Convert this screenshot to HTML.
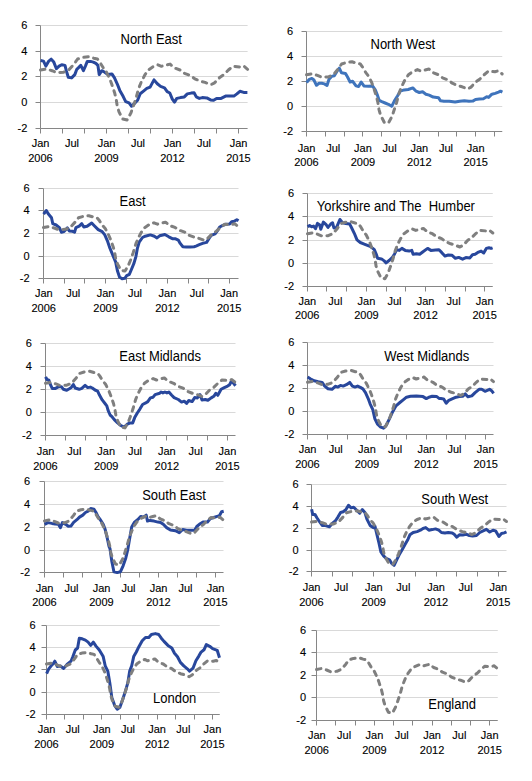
<!DOCTYPE html>
<html><head><meta charset="utf-8"><style>
html,body{margin:0;padding:0;background:#fff;width:532px;height:781px;overflow:hidden}
svg{display:block}
.l{font-family:"Liberation Sans",sans-serif;font-size:11px;fill:#000;stroke:#000;stroke-width:0.12px}
.t{font-family:"Liberation Sans",sans-serif;font-size:13px;fill:#000}
</style></head><body>
<svg width="532" height="781" viewBox="0 0 532 781">
<line x1="40.5" y1="25.5" x2="247.6" y2="25.5" stroke="#d9d9d9" stroke-width="1"/>
<line x1="40.5" y1="51.5" x2="247.6" y2="51.5" stroke="#d9d9d9" stroke-width="1"/>
<line x1="40.5" y1="76.5" x2="247.6" y2="76.5" stroke="#d9d9d9" stroke-width="1"/>
<line x1="40.5" y1="102.5" x2="247.6" y2="102.5" stroke="#d9d9d9" stroke-width="1"/>
<line x1="35.5" y1="25.5" x2="40.5" y2="25.5" stroke="#868686" stroke-width="1"/>
<line x1="35.5" y1="51.5" x2="40.5" y2="51.5" stroke="#868686" stroke-width="1"/>
<line x1="35.5" y1="76.5" x2="40.5" y2="76.5" stroke="#868686" stroke-width="1"/>
<line x1="35.5" y1="102.5" x2="40.5" y2="102.5" stroke="#868686" stroke-width="1"/>
<line x1="35.5" y1="128.5" x2="40.5" y2="128.5" stroke="#868686" stroke-width="1"/>
<line x1="40.5" y1="25.5" x2="40.5" y2="128.5" stroke="#868686" stroke-width="1"/>
<line x1="40.5" y1="128.5" x2="247.6" y2="128.5" stroke="#868686" stroke-width="1"/>
<line x1="40.5" y1="128.5" x2="40.5" y2="133.5" stroke="#868686" stroke-width="1"/>
<line x1="62.5" y1="128.5" x2="62.5" y2="133.5" stroke="#868686" stroke-width="1"/>
<line x1="84.5" y1="128.5" x2="84.5" y2="133.5" stroke="#868686" stroke-width="1"/>
<line x1="106.5" y1="128.5" x2="106.5" y2="133.5" stroke="#868686" stroke-width="1"/>
<line x1="128.5" y1="128.5" x2="128.5" y2="133.5" stroke="#868686" stroke-width="1"/>
<line x1="150.5" y1="128.5" x2="150.5" y2="133.5" stroke="#868686" stroke-width="1"/>
<line x1="172.5" y1="128.5" x2="172.5" y2="133.5" stroke="#868686" stroke-width="1"/>
<line x1="194.5" y1="128.5" x2="194.5" y2="133.5" stroke="#868686" stroke-width="1"/>
<line x1="216.5" y1="128.5" x2="216.5" y2="133.5" stroke="#868686" stroke-width="1"/>
<line x1="238.5" y1="128.5" x2="238.5" y2="133.5" stroke="#868686" stroke-width="1"/>
<text x="27.3" y="29.4" text-anchor="end" class="l">6</text>
<text x="27.3" y="55.4" text-anchor="end" class="l">4</text>
<text x="27.3" y="80.4" text-anchor="end" class="l">2</text>
<text x="27.3" y="106.4" text-anchor="end" class="l">0</text>
<text x="27.3" y="132.4" text-anchor="end" class="l">-2</text>
<text x="40.50" y="146.9" text-anchor="middle" class="l">Jan</text>
<text x="40.50" y="161.5" text-anchor="middle" class="l">2006</text>
<text x="72.00" y="146.9" text-anchor="middle" class="l">Jul</text>
<text x="106.50" y="146.9" text-anchor="middle" class="l">Jan</text>
<text x="106.50" y="161.5" text-anchor="middle" class="l">2009</text>
<text x="138.00" y="146.9" text-anchor="middle" class="l">Jul</text>
<text x="172.50" y="146.9" text-anchor="middle" class="l">Jan</text>
<text x="172.50" y="161.5" text-anchor="middle" class="l">2012</text>
<text x="204.00" y="146.9" text-anchor="middle" class="l">Jul</text>
<text x="238.50" y="146.9" text-anchor="middle" class="l">Jan</text>
<text x="238.50" y="161.5" text-anchor="middle" class="l">2015</text>
<polyline points="40.6,60.5 43.5,61.1 45.9,66.1 48.5,61.4 51.2,59.2 53.8,62.1 56.4,68.7 59.1,66.1 61.7,64.7 65.0,65.4 66.3,70.7 68.3,77.2 71.6,77.9 74.8,74.6 76.8,69.3 78.8,67.4 80.8,65.4 83.4,70.7 85.4,66.1 87.3,61.4 90.6,61.4 93.3,62.1 95.9,63.4 97.9,65.4 99.2,74.6 101.8,70.7 104.4,72.0 107.9,74.6 111.9,73.9 114.5,77.9 117.2,83.8 119.8,90.4 123.1,96.3 125.7,101.6 129.0,102.9 131.6,106.2 134.3,103.6 137.6,100.3 140.2,93.7 143.5,91.1 146.8,88.4 150.1,87.1 154.0,79.9 157.3,83.8 160.6,86.4 164.5,87.8 167.2,91.7 169.8,93.0 172.3,99.1 174.5,102.1 176.8,98.4 180.5,97.6 184.3,96.9 187.3,93.9 191.1,93.1 194.1,92.8 196.3,96.9 199.3,98.4 202.3,97.6 206.8,97.9 210.6,99.9 213.6,100.3 216.6,98.4 221.1,98.4 225.6,96.1 230.2,96.1 233.9,96.1 236.9,93.9 239.9,91.3 243.7,92.4 247.4,92.4" fill="none" stroke="#28479c" stroke-width="3" stroke-linejoin="round"/>
<polyline points="40.5,70.0 46.2,69.0 52.0,70.7 56.3,72.5 59.3,72.5 63.7,72.2 68.8,70.0 74.0,64.1 77.6,59.0 82.8,57.4 88.6,56.7 93.8,58.2 97.4,59.0 99.6,61.8 103.3,67.9 106.0,71.2 109.4,78.0 111.7,84.0 114.6,92.7 116.1,98.6 117.2,106.0 119.0,111.9 122.7,119.0 127.1,120.0 130.7,113.4 132.9,107.5 135.9,98.6 138.7,88.3 141.7,81.0 144.7,75.2 148.3,70.0 152.7,67.0 157.8,64.8 161.5,66.3 165.8,65.2 170.1,64.1 174.3,67.9 180.1,70.0 184.5,73.3 190.4,75.5 194.8,78.8 200.6,81.2 205.1,82.4 210.9,84.7 214.6,82.8 219.7,77.4 224.1,74.4 228.4,70.0 232.9,66.3 239.9,67.0 243.5,65.9 247.6,69.3" fill="none" stroke="#7f7f7f" stroke-width="3" stroke-dasharray="4.5,5.5" stroke-linecap="round" stroke-linejoin="round"/>
<text transform="translate(120.5 43.6) scale(1 1.07)" class="t" xml:space="preserve">North East</text>
<line x1="306.5" y1="31.5" x2="502.25" y2="31.5" stroke="#d9d9d9" stroke-width="1"/>
<line x1="306.5" y1="56.5" x2="502.25" y2="56.5" stroke="#d9d9d9" stroke-width="1"/>
<line x1="306.5" y1="81.5" x2="502.25" y2="81.5" stroke="#d9d9d9" stroke-width="1"/>
<line x1="306.5" y1="106.5" x2="502.25" y2="106.5" stroke="#d9d9d9" stroke-width="1"/>
<line x1="301.5" y1="31.5" x2="306.5" y2="31.5" stroke="#868686" stroke-width="1"/>
<line x1="301.5" y1="56.5" x2="306.5" y2="56.5" stroke="#868686" stroke-width="1"/>
<line x1="301.5" y1="81.5" x2="306.5" y2="81.5" stroke="#868686" stroke-width="1"/>
<line x1="301.5" y1="106.5" x2="306.5" y2="106.5" stroke="#868686" stroke-width="1"/>
<line x1="301.5" y1="131.5" x2="306.5" y2="131.5" stroke="#868686" stroke-width="1"/>
<line x1="306.5" y1="31.5" x2="306.5" y2="131.5" stroke="#868686" stroke-width="1"/>
<line x1="306.5" y1="131.5" x2="502.25" y2="131.5" stroke="#868686" stroke-width="1"/>
<line x1="306.5" y1="131.5" x2="306.5" y2="136.5" stroke="#868686" stroke-width="1"/>
<line x1="325.5" y1="131.5" x2="325.5" y2="136.5" stroke="#868686" stroke-width="1"/>
<line x1="344.5" y1="131.5" x2="344.5" y2="136.5" stroke="#868686" stroke-width="1"/>
<line x1="362.5" y1="131.5" x2="362.5" y2="136.5" stroke="#868686" stroke-width="1"/>
<line x1="381.5" y1="131.5" x2="381.5" y2="136.5" stroke="#868686" stroke-width="1"/>
<line x1="400.5" y1="131.5" x2="400.5" y2="136.5" stroke="#868686" stroke-width="1"/>
<line x1="419.5" y1="131.5" x2="419.5" y2="136.5" stroke="#868686" stroke-width="1"/>
<line x1="438.5" y1="131.5" x2="438.5" y2="136.5" stroke="#868686" stroke-width="1"/>
<line x1="456.5" y1="131.5" x2="456.5" y2="136.5" stroke="#868686" stroke-width="1"/>
<line x1="475.5" y1="131.5" x2="475.5" y2="136.5" stroke="#868686" stroke-width="1"/>
<line x1="494.5" y1="131.5" x2="494.5" y2="136.5" stroke="#868686" stroke-width="1"/>
<text x="293" y="35.4" text-anchor="end" class="l">6</text>
<text x="293" y="60.4" text-anchor="end" class="l">4</text>
<text x="293" y="85.4" text-anchor="end" class="l">2</text>
<text x="293" y="110.4" text-anchor="end" class="l">0</text>
<text x="293" y="135.4" text-anchor="end" class="l">-2</text>
<text x="306.50" y="151.9" text-anchor="middle" class="l">Jan</text>
<text x="306.50" y="166.4" text-anchor="middle" class="l">2006</text>
<text x="333.20" y="151.9" text-anchor="middle" class="l">Jul</text>
<text x="362.90" y="151.9" text-anchor="middle" class="l">Jan</text>
<text x="362.90" y="166.4" text-anchor="middle" class="l">2009</text>
<text x="389.60" y="151.9" text-anchor="middle" class="l">Jul</text>
<text x="419.30" y="151.9" text-anchor="middle" class="l">Jan</text>
<text x="419.30" y="166.4" text-anchor="middle" class="l">2012</text>
<text x="446.00" y="151.9" text-anchor="middle" class="l">Jul</text>
<text x="475.70" y="151.9" text-anchor="middle" class="l">Jan</text>
<text x="475.70" y="166.4" text-anchor="middle" class="l">2015</text>
<polyline points="306.6,82.6 309.3,79.3 311.9,78.4 313.9,80.0 316.5,85.3 319.1,83.3 321.8,83.3 324.4,83.9 327.0,85.5 329.0,79.3 331.6,76.4 334.3,75.8 336.9,71.4 339.3,68.2 341.5,72.8 345.4,73.4 347.4,76.7 350.1,82.0 352.7,81.3 356.0,85.9 358.6,86.6 361.2,82.0 363.9,85.9 368.5,86.3 372.5,85.9 375.3,89.9 377.2,94.5 379.2,100.4 381.8,101.7 385.1,103.0 388.4,104.3 391.7,106.3 394.3,101.1 397.6,95.8 400.3,91.2 404.2,89.9 408.2,89.5 412.8,87.9 416.1,91.2 419.3,92.5 422.6,91.8 425.9,94.2 429.2,95.1 433.2,97.1 438.6,97.8 440.6,100.8 443.9,101.3 449.2,101.3 455.1,102.1 459.7,101.3 464.3,100.8 468.9,101.3 472.8,101.1 475.5,99.5 479.4,99.1 483.4,98.7 486.7,96.8 488.6,97.4 491.9,94.2 495.2,93.4 498.5,92.1 500.5,91.2 502.4,92.1" fill="none" stroke="#3f74bc" stroke-width="3" stroke-linejoin="round"/>
<polyline points="306.5,74.8 311.9,73.8 317.4,75.4 321.5,77.1 324.3,77.1 328.4,76.9 333.3,74.8 338.1,69.0 341.6,64.0 346.5,62.5 352.0,61.8 356.8,63.2 360.3,64.0 362.4,66.8 365.8,72.6 368.4,75.9 371.7,82.5 373.8,88.2 376.5,96.8 377.9,102.5 379.0,109.6 380.7,115.4 384.2,122.2 388.3,123.2 391.8,116.9 393.8,111.1 396.6,102.5 399.3,92.5 402.2,85.4 405.0,79.8 408.4,74.8 412.5,71.8 417.4,69.6 420.9,71.1 425.0,70.0 429.0,69.0 433.0,72.6 438.5,74.8 442.6,77.9 448.2,80.0 452.3,83.2 457.9,85.6 462.1,86.8 467.6,89.0 471.0,87.1 475.9,81.9 480.0,79.0 484.1,74.8 488.4,71.1 494.9,71.8 498.4,70.8 502.2,74.0" fill="none" stroke="#7f7f7f" stroke-width="3" stroke-dasharray="4.5,5.5" stroke-linecap="round" stroke-linejoin="round"/>
<text transform="translate(370.5 48.6) scale(1 1.07)" class="t" xml:space="preserve">North West</text>
<line x1="43.5" y1="188.5" x2="238.5" y2="188.5" stroke="#d9d9d9" stroke-width="1"/>
<line x1="43.5" y1="210.5" x2="238.5" y2="210.5" stroke="#d9d9d9" stroke-width="1"/>
<line x1="43.5" y1="233.5" x2="238.5" y2="233.5" stroke="#d9d9d9" stroke-width="1"/>
<line x1="43.5" y1="256.5" x2="238.5" y2="256.5" stroke="#d9d9d9" stroke-width="1"/>
<line x1="38.5" y1="188.5" x2="43.5" y2="188.5" stroke="#868686" stroke-width="1"/>
<line x1="38.5" y1="210.5" x2="43.5" y2="210.5" stroke="#868686" stroke-width="1"/>
<line x1="38.5" y1="233.5" x2="43.5" y2="233.5" stroke="#868686" stroke-width="1"/>
<line x1="38.5" y1="256.5" x2="43.5" y2="256.5" stroke="#868686" stroke-width="1"/>
<line x1="38.5" y1="278.5" x2="43.5" y2="278.5" stroke="#868686" stroke-width="1"/>
<line x1="43.5" y1="188.5" x2="43.5" y2="278.5" stroke="#868686" stroke-width="1"/>
<line x1="43.5" y1="278.5" x2="238.5" y2="278.5" stroke="#868686" stroke-width="1"/>
<line x1="43.5" y1="278.5" x2="43.5" y2="283.5" stroke="#868686" stroke-width="1"/>
<line x1="64.5" y1="278.5" x2="64.5" y2="283.5" stroke="#868686" stroke-width="1"/>
<line x1="84.5" y1="278.5" x2="84.5" y2="283.5" stroke="#868686" stroke-width="1"/>
<line x1="105.5" y1="278.5" x2="105.5" y2="283.5" stroke="#868686" stroke-width="1"/>
<line x1="126.5" y1="278.5" x2="126.5" y2="283.5" stroke="#868686" stroke-width="1"/>
<line x1="146.5" y1="278.5" x2="146.5" y2="283.5" stroke="#868686" stroke-width="1"/>
<line x1="167.5" y1="278.5" x2="167.5" y2="283.5" stroke="#868686" stroke-width="1"/>
<line x1="188.5" y1="278.5" x2="188.5" y2="283.5" stroke="#868686" stroke-width="1"/>
<line x1="208.5" y1="278.5" x2="208.5" y2="283.5" stroke="#868686" stroke-width="1"/>
<line x1="229.5" y1="278.5" x2="229.5" y2="283.5" stroke="#868686" stroke-width="1"/>
<text x="29.5" y="192.4" text-anchor="end" class="l">6</text>
<text x="29.5" y="214.4" text-anchor="end" class="l">4</text>
<text x="29.5" y="237.4" text-anchor="end" class="l">2</text>
<text x="29.5" y="260.4" text-anchor="end" class="l">0</text>
<text x="29.5" y="282.4" text-anchor="end" class="l">-2</text>
<text x="43.75" y="296.9" text-anchor="middle" class="l">Jan</text>
<text x="43.75" y="311.9" text-anchor="middle" class="l">2006</text>
<text x="73.16" y="296.9" text-anchor="middle" class="l">Jul</text>
<text x="105.58" y="296.9" text-anchor="middle" class="l">Jan</text>
<text x="105.58" y="311.9" text-anchor="middle" class="l">2009</text>
<text x="135.00" y="296.9" text-anchor="middle" class="l">Jul</text>
<text x="167.41" y="296.9" text-anchor="middle" class="l">Jan</text>
<text x="167.41" y="311.9" text-anchor="middle" class="l">2012</text>
<text x="196.82" y="296.9" text-anchor="middle" class="l">Jul</text>
<text x="229.24" y="296.9" text-anchor="middle" class="l">Jan</text>
<text x="229.24" y="311.9" text-anchor="middle" class="l">2015</text>
<polyline points="43.6,214.2 46.3,210.5 48.2,213.8 51.5,217.8 52.8,223.7 56.1,225.0 59.4,227.6 61.4,232.2 64.0,231.6 67.3,227.9 69.3,230.9 72.6,231.3 74.6,232.2 75.9,227.6 79.2,226.1 81.8,223.7 83.8,227.0 87.1,226.3 91.7,223.0 94.3,225.7 98.2,229.6 102.2,231.6 104.8,234.9 107.4,240.8 109.6,247.4 112.9,255.3 115.6,261.8 117.5,271.1 119.5,277.0 122.1,278.7 124.8,278.3 126.7,275.7 129.4,274.3 131.3,269.7 134.0,263.2 135.9,256.6 137.3,248.7 139.2,242.1 142.5,237.5 145.2,236.2 150.4,234.9 154.4,236.2 157.0,237.9 159.6,235.8 164.9,234.5 168.8,236.8 172.8,238.8 175.6,238.8 178.3,240.1 180.2,243.4 182.9,246.7 186.2,247.1 190.1,247.1 194.1,246.7 196.0,246.1 199.3,244.7 202.6,243.4 206.6,242.4 209.2,238.2 211.2,235.3 215.1,233.9 217.7,230.3 219.7,227.0 222.3,225.7 225.6,224.3 229.6,223.9 231.6,221.7 234.2,221.3 236.8,219.7 238.5,220.8" fill="none" stroke="#28479c" stroke-width="3" stroke-linejoin="round"/>
<polyline points="43.5,227.4 48.8,226.5 54.3,228.0 58.4,229.6 61.2,229.6 65.3,229.3 70.2,227.4 75.0,222.2 78.5,217.8 83.3,216.4 88.8,215.7 93.7,217.1 97.1,217.8 99.1,220.2 102.6,225.5 105.2,228.4 108.4,234.4 110.6,239.6 113.3,247.2 114.7,252.4 115.7,258.8 117.5,264.0 120.9,270.2 125.0,271.1 128.4,265.3 130.5,260.2 133.3,252.4 136.0,243.4 138.8,237.0 141.6,231.9 145.0,227.4 149.1,224.7 154.0,222.8 157.4,224.2 161.5,223.2 165.5,222.2 169.5,225.5 175.0,227.4 179.1,230.2 184.7,232.2 188.8,235.1 194.3,237.2 198.5,238.2 204.0,240.2 207.4,238.6 212.3,233.8 216.4,231.2 220.5,227.4 224.7,224.2 231.2,224.7 234.7,223.8 238.5,226.8" fill="none" stroke="#7f7f7f" stroke-width="3" stroke-dasharray="4.5,5.5" stroke-linecap="round" stroke-linejoin="round"/>
<text transform="translate(119.5 205.7) scale(1 1.07)" class="t" xml:space="preserve">East</text>
<line x1="307.5" y1="193.5" x2="492.75" y2="193.5" stroke="#d9d9d9" stroke-width="1"/>
<line x1="307.5" y1="216.5" x2="492.75" y2="216.5" stroke="#d9d9d9" stroke-width="1"/>
<line x1="307.5" y1="240.5" x2="492.75" y2="240.5" stroke="#d9d9d9" stroke-width="1"/>
<line x1="307.5" y1="263.5" x2="492.75" y2="263.5" stroke="#d9d9d9" stroke-width="1"/>
<line x1="302.5" y1="193.5" x2="307.5" y2="193.5" stroke="#868686" stroke-width="1"/>
<line x1="302.5" y1="216.5" x2="307.5" y2="216.5" stroke="#868686" stroke-width="1"/>
<line x1="302.5" y1="240.5" x2="307.5" y2="240.5" stroke="#868686" stroke-width="1"/>
<line x1="302.5" y1="263.5" x2="307.5" y2="263.5" stroke="#868686" stroke-width="1"/>
<line x1="302.5" y1="286.5" x2="307.5" y2="286.5" stroke="#868686" stroke-width="1"/>
<line x1="307.5" y1="193.5" x2="307.5" y2="286.5" stroke="#868686" stroke-width="1"/>
<line x1="307.5" y1="286.5" x2="492.75" y2="286.5" stroke="#868686" stroke-width="1"/>
<line x1="307.5" y1="286.5" x2="307.5" y2="291.5" stroke="#868686" stroke-width="1"/>
<line x1="326.5" y1="286.5" x2="326.5" y2="291.5" stroke="#868686" stroke-width="1"/>
<line x1="346.5" y1="286.5" x2="346.5" y2="291.5" stroke="#868686" stroke-width="1"/>
<line x1="366.5" y1="286.5" x2="366.5" y2="291.5" stroke="#868686" stroke-width="1"/>
<line x1="386.5" y1="286.5" x2="386.5" y2="291.5" stroke="#868686" stroke-width="1"/>
<line x1="405.5" y1="286.5" x2="405.5" y2="291.5" stroke="#868686" stroke-width="1"/>
<line x1="425.5" y1="286.5" x2="425.5" y2="291.5" stroke="#868686" stroke-width="1"/>
<line x1="445.5" y1="286.5" x2="445.5" y2="291.5" stroke="#868686" stroke-width="1"/>
<line x1="465.5" y1="286.5" x2="465.5" y2="291.5" stroke="#868686" stroke-width="1"/>
<line x1="484.5" y1="286.5" x2="484.5" y2="291.5" stroke="#868686" stroke-width="1"/>
<text x="294" y="197.4" text-anchor="end" class="l">6</text>
<text x="294" y="220.4" text-anchor="end" class="l">4</text>
<text x="294" y="244.4" text-anchor="end" class="l">2</text>
<text x="294" y="267.4" text-anchor="end" class="l">0</text>
<text x="294" y="290.4" text-anchor="end" class="l">-2</text>
<text x="307.25" y="305.1" text-anchor="middle" class="l">Jan</text>
<text x="307.25" y="319.4" text-anchor="middle" class="l">2006</text>
<text x="335.33" y="305.1" text-anchor="middle" class="l">Jul</text>
<text x="366.41" y="305.1" text-anchor="middle" class="l">Jan</text>
<text x="366.41" y="319.4" text-anchor="middle" class="l">2009</text>
<text x="394.49" y="305.1" text-anchor="middle" class="l">Jul</text>
<text x="425.57" y="305.1" text-anchor="middle" class="l">Jan</text>
<text x="425.57" y="319.4" text-anchor="middle" class="l">2012</text>
<text x="453.65" y="305.1" text-anchor="middle" class="l">Jul</text>
<text x="484.73" y="305.1" text-anchor="middle" class="l">Jan</text>
<text x="484.73" y="319.4" text-anchor="middle" class="l">2015</text>
<polyline points="307.6,226.7 309.6,225.4 311.6,226.7 313.6,226.1 315.5,228.7 317.5,223.4 319.5,224.7 320.8,229.3 323.4,222.1 326.1,224.7 328.0,227.4 330.7,224.1 332.6,222.8 333.9,228.0 336.6,227.4 339.9,219.5 342.5,222.8 345.8,223.4 349.7,224.1 351.7,228.0 354.3,233.3 357.0,239.9 360.3,242.5 363.6,243.8 366.8,245.1 370.1,246.4 372.8,248.4 374.3,249.7 376.3,254.3 377.6,258.3 381.5,258.9 384.2,260.9 386.1,262.9 389.4,260.3 392.7,257.0 394.7,253.7 396.7,249.7 399.3,250.4 401.9,248.4 405.2,250.4 409.2,251.1 411.8,250.4 413.1,254.3 416.4,253.7 419.7,254.3 423.0,251.7 427.6,248.4 430.9,250.4 435.5,250.0 439.0,249.7 441.6,252.4 444.9,256.1 448.2,255.0 452.1,255.3 455.4,258.3 458.7,257.4 462.6,259.2 465.9,257.6 469.9,257.9 472.5,254.7 475.1,254.3 477.8,252.4 481.1,251.1 483.7,253.0 486.3,248.4 489.0,247.8 491.0,248.4 492.6,247.8" fill="none" stroke="#28479c" stroke-width="3" stroke-linejoin="round"/>
<polyline points="307.5,233.7 312.6,232.8 317.8,234.3 321.7,235.9 324.3,235.9 328.2,235.7 332.8,233.7 337.4,228.4 340.7,223.7 345.3,222.3 350.5,221.6 355.1,223.0 358.4,223.7 360.4,226.3 363.6,231.7 366.1,234.8 369.2,240.9 371.2,246.3 373.8,254.2 375.1,259.5 376.1,266.2 377.8,271.5 381.0,277.9 384.9,278.8 388.2,272.9 390.1,267.6 392.8,259.5 395.4,250.2 398.0,243.6 400.7,238.4 404.0,233.7 407.9,230.9 412.5,229.0 415.7,230.4 419.6,229.3 423.4,228.4 427.2,231.7 432.4,233.7 436.3,236.6 441.6,238.6 445.5,241.6 450.7,243.8 454.7,244.9 459.9,247.0 463.2,245.2 467.8,240.3 471.7,237.7 475.6,233.7 479.6,230.4 485.8,230.9 489.1,230.0 492.8,233.0" fill="none" stroke="#7f7f7f" stroke-width="3" stroke-dasharray="4.5,5.5" stroke-linecap="round" stroke-linejoin="round"/>
<text transform="translate(316.8 210.9) scale(1 1.07)" class="t" xml:space="preserve">Yorkshire and The  Humber</text>
<line x1="45.5" y1="343.5" x2="235.5" y2="343.5" stroke="#d9d9d9" stroke-width="1"/>
<line x1="45.5" y1="366.5" x2="235.5" y2="366.5" stroke="#d9d9d9" stroke-width="1"/>
<line x1="45.5" y1="389.5" x2="235.5" y2="389.5" stroke="#d9d9d9" stroke-width="1"/>
<line x1="45.5" y1="412.5" x2="235.5" y2="412.5" stroke="#d9d9d9" stroke-width="1"/>
<line x1="40.5" y1="343.5" x2="45.5" y2="343.5" stroke="#868686" stroke-width="1"/>
<line x1="40.5" y1="366.5" x2="45.5" y2="366.5" stroke="#868686" stroke-width="1"/>
<line x1="40.5" y1="389.5" x2="45.5" y2="389.5" stroke="#868686" stroke-width="1"/>
<line x1="40.5" y1="412.5" x2="45.5" y2="412.5" stroke="#868686" stroke-width="1"/>
<line x1="40.5" y1="435.5" x2="45.5" y2="435.5" stroke="#868686" stroke-width="1"/>
<line x1="45.5" y1="343.5" x2="45.5" y2="435.5" stroke="#868686" stroke-width="1"/>
<line x1="45.5" y1="435.5" x2="235.5" y2="435.5" stroke="#868686" stroke-width="1"/>
<line x1="45.5" y1="435.5" x2="45.5" y2="440.5" stroke="#868686" stroke-width="1"/>
<line x1="65.5" y1="435.5" x2="65.5" y2="440.5" stroke="#868686" stroke-width="1"/>
<line x1="85.5" y1="435.5" x2="85.5" y2="440.5" stroke="#868686" stroke-width="1"/>
<line x1="106.5" y1="435.5" x2="106.5" y2="440.5" stroke="#868686" stroke-width="1"/>
<line x1="126.5" y1="435.5" x2="126.5" y2="440.5" stroke="#868686" stroke-width="1"/>
<line x1="146.5" y1="435.5" x2="146.5" y2="440.5" stroke="#868686" stroke-width="1"/>
<line x1="166.5" y1="435.5" x2="166.5" y2="440.5" stroke="#868686" stroke-width="1"/>
<line x1="187.5" y1="435.5" x2="187.5" y2="440.5" stroke="#868686" stroke-width="1"/>
<line x1="207.5" y1="435.5" x2="207.5" y2="440.5" stroke="#868686" stroke-width="1"/>
<line x1="227.5" y1="435.5" x2="227.5" y2="440.5" stroke="#868686" stroke-width="1"/>
<text x="31.75" y="347.4" text-anchor="end" class="l">6</text>
<text x="31.75" y="370.4" text-anchor="end" class="l">4</text>
<text x="31.75" y="393.4" text-anchor="end" class="l">2</text>
<text x="31.75" y="416.4" text-anchor="end" class="l">0</text>
<text x="31.75" y="439.4" text-anchor="end" class="l">-2</text>
<text x="45.50" y="455.1" text-anchor="middle" class="l">Jan</text>
<text x="45.50" y="469.6" text-anchor="middle" class="l">2006</text>
<text x="74.33" y="455.1" text-anchor="middle" class="l">Jul</text>
<text x="106.16" y="455.1" text-anchor="middle" class="l">Jan</text>
<text x="106.16" y="469.6" text-anchor="middle" class="l">2009</text>
<text x="134.99" y="455.1" text-anchor="middle" class="l">Jul</text>
<text x="166.82" y="455.1" text-anchor="middle" class="l">Jan</text>
<text x="166.82" y="469.6" text-anchor="middle" class="l">2012</text>
<text x="195.65" y="455.1" text-anchor="middle" class="l">Jul</text>
<text x="227.48" y="455.1" text-anchor="middle" class="l">Jan</text>
<text x="227.48" y="469.6" text-anchor="middle" class="l">2015</text>
<polyline points="45.6,376.8 46.9,379.5 48.9,380.1 50.2,384.1 52.2,388.4 55.5,388.4 58.8,386.7 61.4,386.7 63.4,389.3 66.7,390.3 69.3,388.7 71.3,387.4 73.3,384.5 75.2,388.0 79.2,389.3 81.8,388.4 85.1,385.4 87.7,387.6 90.4,387.1 92.3,388.0 95.0,390.0 97.6,391.1 99.6,395.3 102.2,399.9 104.8,403.2 106.8,405.8 108.1,410.4 110.1,415.0 111.6,416.3 114.3,419.6 117.6,422.9 120.8,425.5 124.1,427.1 127.4,424.2 130.1,422.9 132.7,422.9 134.7,417.6 137.3,413.0 139.9,409.1 142.6,404.5 145.2,403.2 147.8,401.6 150.4,397.9 153.1,397.2 155.1,394.6 159.7,393.3 161.0,392.0 162.9,392.9 164.9,392.0 166.9,392.9 168.9,392.0 171.5,395.0 174.1,397.6 178.3,399.5 181.6,402.1 184.2,401.2 186.6,403.4 188.8,400.5 192.1,401.6 194.7,397.6 197.4,397.9 200.0,394.6 202.0,399.9 205.3,399.5 207.9,400.3 211.2,397.9 213.8,396.3 215.8,393.3 217.8,395.3 221.1,389.3 224.3,387.6 227.6,386.1 229.6,384.7 231.6,380.8 233.6,383.4 235.5,385.8" fill="none" stroke="#28479c" stroke-width="3" stroke-linejoin="round"/>
<polyline points="45.5,383.3 50.7,382.4 56.0,383.9 60.0,385.5 62.8,385.5 66.8,385.2 71.5,383.3 76.2,378.0 79.6,373.4 84.3,372.0 89.6,371.3 94.4,372.7 97.7,373.4 99.7,375.9 103.1,381.3 105.6,384.3 108.7,390.4 110.8,395.7 113.5,403.5 114.8,408.8 115.9,415.4 117.6,420.7 120.9,427.0 124.9,427.9 128.3,422.0 130.3,416.8 133.0,408.8 135.6,399.6 138.3,393.1 141.1,387.9 144.4,383.3 148.4,380.5 153.1,378.6 156.5,380.0 160.5,378.9 164.4,378.0 168.3,381.3 173.6,383.3 177.6,386.2 183.1,388.1 187.1,391.1 192.4,393.3 196.5,394.3 201.9,396.4 205.2,394.7 209.9,389.8 213.9,387.2 217.9,383.3 222.0,380.0 228.4,380.5 231.8,379.6 235.5,382.6" fill="none" stroke="#7f7f7f" stroke-width="3" stroke-dasharray="4.5,5.5" stroke-linecap="round" stroke-linejoin="round"/>
<text transform="translate(119.3 360.9) scale(1 1.07)" class="t" xml:space="preserve">East Midlands</text>
<line x1="307.5" y1="342.5" x2="493.5" y2="342.5" stroke="#d9d9d9" stroke-width="1"/>
<line x1="307.5" y1="365.5" x2="493.5" y2="365.5" stroke="#d9d9d9" stroke-width="1"/>
<line x1="307.5" y1="388.5" x2="493.5" y2="388.5" stroke="#d9d9d9" stroke-width="1"/>
<line x1="307.5" y1="411.5" x2="493.5" y2="411.5" stroke="#d9d9d9" stroke-width="1"/>
<line x1="302.5" y1="342.5" x2="307.5" y2="342.5" stroke="#868686" stroke-width="1"/>
<line x1="302.5" y1="365.5" x2="307.5" y2="365.5" stroke="#868686" stroke-width="1"/>
<line x1="302.5" y1="388.5" x2="307.5" y2="388.5" stroke="#868686" stroke-width="1"/>
<line x1="302.5" y1="411.5" x2="307.5" y2="411.5" stroke="#868686" stroke-width="1"/>
<line x1="302.5" y1="434.5" x2="307.5" y2="434.5" stroke="#868686" stroke-width="1"/>
<line x1="307.5" y1="342.5" x2="307.5" y2="434.5" stroke="#868686" stroke-width="1"/>
<line x1="307.5" y1="434.5" x2="493.5" y2="434.5" stroke="#868686" stroke-width="1"/>
<line x1="307.5" y1="434.5" x2="307.5" y2="439.5" stroke="#868686" stroke-width="1"/>
<line x1="327.5" y1="434.5" x2="327.5" y2="439.5" stroke="#868686" stroke-width="1"/>
<line x1="347.5" y1="434.5" x2="347.5" y2="439.5" stroke="#868686" stroke-width="1"/>
<line x1="366.5" y1="434.5" x2="366.5" y2="439.5" stroke="#868686" stroke-width="1"/>
<line x1="386.5" y1="434.5" x2="386.5" y2="439.5" stroke="#868686" stroke-width="1"/>
<line x1="406.5" y1="434.5" x2="406.5" y2="439.5" stroke="#868686" stroke-width="1"/>
<line x1="426.5" y1="434.5" x2="426.5" y2="439.5" stroke="#868686" stroke-width="1"/>
<line x1="446.5" y1="434.5" x2="446.5" y2="439.5" stroke="#868686" stroke-width="1"/>
<line x1="465.5" y1="434.5" x2="465.5" y2="439.5" stroke="#868686" stroke-width="1"/>
<line x1="485.5" y1="434.5" x2="485.5" y2="439.5" stroke="#868686" stroke-width="1"/>
<text x="294.25" y="346.4" text-anchor="end" class="l">6</text>
<text x="294.25" y="369.4" text-anchor="end" class="l">4</text>
<text x="294.25" y="392.4" text-anchor="end" class="l">2</text>
<text x="294.25" y="415.4" text-anchor="end" class="l">0</text>
<text x="294.25" y="438.4" text-anchor="end" class="l">-2</text>
<text x="307.50" y="453.1" text-anchor="middle" class="l">Jan</text>
<text x="307.50" y="467.6" text-anchor="middle" class="l">2006</text>
<text x="335.70" y="453.1" text-anchor="middle" class="l">Jul</text>
<text x="366.90" y="453.1" text-anchor="middle" class="l">Jan</text>
<text x="366.90" y="467.6" text-anchor="middle" class="l">2009</text>
<text x="395.10" y="453.1" text-anchor="middle" class="l">Jul</text>
<text x="426.30" y="453.1" text-anchor="middle" class="l">Jan</text>
<text x="426.30" y="467.6" text-anchor="middle" class="l">2012</text>
<text x="454.50" y="453.1" text-anchor="middle" class="l">Jul</text>
<text x="485.70" y="453.1" text-anchor="middle" class="l">Jan</text>
<text x="485.70" y="467.6" text-anchor="middle" class="l">2015</text>
<polyline points="307.6,377.1 310.3,378.8 314.2,380.8 318.2,381.8 322.1,382.4 324.7,386.1 328.0,388.7 332.0,389.3 335.3,386.3 337.9,387.1 340.5,385.4 343.2,386.1 346.4,384.7 349.7,382.4 352.4,386.1 355.0,387.1 357.6,386.1 360.3,387.4 362.9,388.9 365.5,392.6 368.2,398.6 370.1,403.8 372.8,409.7 374.9,418.9 377.6,424.2 380.2,426.8 383.5,428.2 386.1,425.5 389.4,418.9 392.7,411.7 396.0,405.8 399.9,402.5 403.2,399.9 406.5,397.2 410.5,396.3 416.4,395.9 423.0,396.6 426.3,398.6 428.9,397.2 432.2,396.3 436.8,396.6 439.4,398.6 440.9,398.6 443.6,398.9 446.2,403.2 448.8,400.3 452.1,398.9 456.1,397.2 459.3,396.6 462.6,396.3 465.3,393.9 467.9,396.8 471.8,395.9 475.1,392.6 479.1,389.3 481.7,389.3 485.0,391.3 489.6,389.3 491.6,390.7 493.6,393.3" fill="none" stroke="#28479c" stroke-width="3" stroke-linejoin="round"/>
<polyline points="307.5,382.3 312.6,381.4 317.8,382.9 321.7,384.5 324.4,384.5 328.3,384.2 332.9,382.3 337.6,377.0 340.8,372.4 345.5,371.0 350.7,370.3 355.3,371.7 358.6,372.4 360.6,374.9 363.9,380.3 366.3,383.3 369.4,389.4 371.5,394.7 374.0,402.5 375.4,407.8 376.4,414.4 378.0,419.7 381.3,426.0 385.2,426.9 388.5,421.0 390.5,415.8 393.2,407.8 395.7,398.6 398.4,392.1 401.1,386.9 404.4,382.3 408.3,379.5 412.9,377.6 416.2,379.0 420.1,377.9 423.9,377.0 427.7,380.3 432.9,382.3 436.8,385.2 442.2,387.1 446.1,390.1 451.3,392.3 455.3,393.3 460.6,395.4 463.9,393.7 468.5,388.8 472.4,386.2 476.3,382.3 480.3,379.0 486.6,379.5 489.9,378.6 493.5,381.6" fill="none" stroke="#7f7f7f" stroke-width="3" stroke-dasharray="4.5,5.5" stroke-linecap="round" stroke-linejoin="round"/>
<text transform="translate(384.3 360.9) scale(1 1.07)" class="t" xml:space="preserve">West Midlands</text>
<line x1="44.5" y1="481.5" x2="223.5" y2="481.5" stroke="#d9d9d9" stroke-width="1"/>
<line x1="44.5" y1="504.5" x2="223.5" y2="504.5" stroke="#d9d9d9" stroke-width="1"/>
<line x1="44.5" y1="527.5" x2="223.5" y2="527.5" stroke="#d9d9d9" stroke-width="1"/>
<line x1="44.5" y1="550.5" x2="223.5" y2="550.5" stroke="#d9d9d9" stroke-width="1"/>
<line x1="39.5" y1="481.5" x2="44.5" y2="481.5" stroke="#868686" stroke-width="1"/>
<line x1="39.5" y1="504.5" x2="44.5" y2="504.5" stroke="#868686" stroke-width="1"/>
<line x1="39.5" y1="527.5" x2="44.5" y2="527.5" stroke="#868686" stroke-width="1"/>
<line x1="39.5" y1="550.5" x2="44.5" y2="550.5" stroke="#868686" stroke-width="1"/>
<line x1="39.5" y1="572.5" x2="44.5" y2="572.5" stroke="#868686" stroke-width="1"/>
<line x1="44.5" y1="481.5" x2="44.5" y2="572.5" stroke="#868686" stroke-width="1"/>
<line x1="44.5" y1="572.5" x2="223.5" y2="572.5" stroke="#868686" stroke-width="1"/>
<line x1="44.5" y1="572.5" x2="44.5" y2="577.5" stroke="#868686" stroke-width="1"/>
<line x1="63.5" y1="572.5" x2="63.5" y2="577.5" stroke="#868686" stroke-width="1"/>
<line x1="82.5" y1="572.5" x2="82.5" y2="577.5" stroke="#868686" stroke-width="1"/>
<line x1="101.5" y1="572.5" x2="101.5" y2="577.5" stroke="#868686" stroke-width="1"/>
<line x1="120.5" y1="572.5" x2="120.5" y2="577.5" stroke="#868686" stroke-width="1"/>
<line x1="139.5" y1="572.5" x2="139.5" y2="577.5" stroke="#868686" stroke-width="1"/>
<line x1="158.5" y1="572.5" x2="158.5" y2="577.5" stroke="#868686" stroke-width="1"/>
<line x1="177.5" y1="572.5" x2="177.5" y2="577.5" stroke="#868686" stroke-width="1"/>
<line x1="196.5" y1="572.5" x2="196.5" y2="577.5" stroke="#868686" stroke-width="1"/>
<line x1="215.5" y1="572.5" x2="215.5" y2="577.5" stroke="#868686" stroke-width="1"/>
<text x="30" y="485.4" text-anchor="end" class="l">6</text>
<text x="30" y="508.4" text-anchor="end" class="l">4</text>
<text x="30" y="531.4" text-anchor="end" class="l">2</text>
<text x="30" y="554.4" text-anchor="end" class="l">0</text>
<text x="30" y="576.4" text-anchor="end" class="l">-2</text>
<text x="44.50" y="591.9" text-anchor="middle" class="l">Jan</text>
<text x="44.50" y="606.4" text-anchor="middle" class="l">2006</text>
<text x="71.50" y="591.9" text-anchor="middle" class="l">Jul</text>
<text x="101.50" y="591.9" text-anchor="middle" class="l">Jan</text>
<text x="101.50" y="606.4" text-anchor="middle" class="l">2009</text>
<text x="128.50" y="591.9" text-anchor="middle" class="l">Jul</text>
<text x="158.50" y="591.9" text-anchor="middle" class="l">Jan</text>
<text x="158.50" y="606.4" text-anchor="middle" class="l">2012</text>
<text x="185.50" y="591.9" text-anchor="middle" class="l">Jul</text>
<text x="215.50" y="591.9" text-anchor="middle" class="l">Jan</text>
<text x="215.50" y="606.4" text-anchor="middle" class="l">2015</text>
<polyline points="44.6,524.3 47.9,522.6 51.9,523.4 55.2,523.9 58.4,524.3 60.4,527.6 62.4,522.6 65.7,524.3 68.3,526.3 70.9,526.1 73.6,522.4 76.9,519.7 79.5,517.1 82.8,515.1 85.4,512.5 88.1,511.2 90.7,508.6 94.0,509.2 96.0,512.5 97.9,516.4 99.9,519.1 103.2,524.3 105.2,529.6 107.1,537.5 109.1,546.7 110.0,548.7 111.9,561.8 113.9,571.7 117.2,572.6 120.5,571.7 123.1,565.8 125.8,557.9 127.7,550.0 129.7,538.2 131.7,527.0 134.3,522.4 137.6,519.7 140.9,516.4 143.5,517.1 146.2,515.1 147.5,521.1 150.1,520.4 154.1,521.1 158.0,522.1 160.6,522.4 163.3,524.3 166.6,527.6 170.5,530.0 175.4,530.7 179.3,532.7 182.7,529.5 186.7,530.2 191.2,530.2 194.6,530.2 196.8,526.5 200.2,523.7 203.0,522.0 207.5,522.0 210.3,518.6 213.7,517.5 217.1,516.4 219.4,515.8 221.6,511.8 223.7,511.3" fill="none" stroke="#28479c" stroke-width="3" stroke-linejoin="round"/>
<polyline points="44.5,520.9 49.4,519.9 54.4,521.4 58.2,523.0 60.8,523.0 64.5,522.8 69.0,520.9 73.4,515.6 76.6,511.1 81.0,509.7 86.1,509.0 90.5,510.4 93.7,511.1 95.6,513.6 98.7,518.9 101.1,521.9 104.1,527.9 106.1,533.1 108.5,540.9 109.8,546.1 110.8,552.6 112.4,557.8 115.6,564.1 119.3,565.0 122.5,559.2 124.4,554.0 126.9,546.1 129.4,537.0 132.0,530.5 134.5,525.4 137.7,520.9 141.5,518.1 145.9,516.2 149.1,517.6 152.8,516.5 156.5,515.6 160.2,518.9 165.2,520.9 169.0,523.7 174.1,525.6 177.9,528.6 182.9,530.8 186.8,531.8 191.8,533.8 195.0,532.1 199.4,527.3 203.2,524.7 206.9,520.9 210.8,517.6 216.8,518.1 220.0,517.2 223.5,520.2" fill="none" stroke="#7f7f7f" stroke-width="3" stroke-dasharray="4.5,5.5" stroke-linecap="round" stroke-linejoin="round"/>
<text transform="translate(142.2 499.7) scale(1 1.07)" class="t" xml:space="preserve">South East</text>
<line x1="311.5" y1="484.5" x2="506.5" y2="484.5" stroke="#d9d9d9" stroke-width="1"/>
<line x1="311.5" y1="506.5" x2="506.5" y2="506.5" stroke="#d9d9d9" stroke-width="1"/>
<line x1="311.5" y1="528.5" x2="506.5" y2="528.5" stroke="#d9d9d9" stroke-width="1"/>
<line x1="311.5" y1="550.5" x2="506.5" y2="550.5" stroke="#d9d9d9" stroke-width="1"/>
<line x1="306.5" y1="484.5" x2="311.5" y2="484.5" stroke="#868686" stroke-width="1"/>
<line x1="306.5" y1="506.5" x2="311.5" y2="506.5" stroke="#868686" stroke-width="1"/>
<line x1="306.5" y1="528.5" x2="311.5" y2="528.5" stroke="#868686" stroke-width="1"/>
<line x1="306.5" y1="550.5" x2="311.5" y2="550.5" stroke="#868686" stroke-width="1"/>
<line x1="306.5" y1="571.5" x2="311.5" y2="571.5" stroke="#868686" stroke-width="1"/>
<line x1="311.5" y1="484.5" x2="311.5" y2="571.5" stroke="#868686" stroke-width="1"/>
<line x1="311.5" y1="571.5" x2="506.5" y2="571.5" stroke="#868686" stroke-width="1"/>
<line x1="311.5" y1="571.5" x2="311.5" y2="576.5" stroke="#868686" stroke-width="1"/>
<line x1="332.5" y1="571.5" x2="332.5" y2="576.5" stroke="#868686" stroke-width="1"/>
<line x1="352.5" y1="571.5" x2="352.5" y2="576.5" stroke="#868686" stroke-width="1"/>
<line x1="373.5" y1="571.5" x2="373.5" y2="576.5" stroke="#868686" stroke-width="1"/>
<line x1="394.5" y1="571.5" x2="394.5" y2="576.5" stroke="#868686" stroke-width="1"/>
<line x1="415.5" y1="571.5" x2="415.5" y2="576.5" stroke="#868686" stroke-width="1"/>
<line x1="436.5" y1="571.5" x2="436.5" y2="576.5" stroke="#868686" stroke-width="1"/>
<line x1="456.5" y1="571.5" x2="456.5" y2="576.5" stroke="#868686" stroke-width="1"/>
<line x1="477.5" y1="571.5" x2="477.5" y2="576.5" stroke="#868686" stroke-width="1"/>
<line x1="498.5" y1="571.5" x2="498.5" y2="576.5" stroke="#868686" stroke-width="1"/>
<text x="298.5" y="488.4" text-anchor="end" class="l">6</text>
<text x="298.5" y="510.4" text-anchor="end" class="l">4</text>
<text x="298.5" y="532.4" text-anchor="end" class="l">2</text>
<text x="298.5" y="554.4" text-anchor="end" class="l">0</text>
<text x="298.5" y="575.4" text-anchor="end" class="l">-2</text>
<text x="311.50" y="591.4" text-anchor="middle" class="l">Jan</text>
<text x="311.50" y="605.6" text-anchor="middle" class="l">2006</text>
<text x="341.12" y="591.4" text-anchor="middle" class="l">Jul</text>
<text x="373.75" y="591.4" text-anchor="middle" class="l">Jan</text>
<text x="373.75" y="605.6" text-anchor="middle" class="l">2009</text>
<text x="403.38" y="591.4" text-anchor="middle" class="l">Jul</text>
<text x="436.00" y="591.4" text-anchor="middle" class="l">Jan</text>
<text x="436.00" y="605.6" text-anchor="middle" class="l">2012</text>
<text x="465.62" y="591.4" text-anchor="middle" class="l">Jul</text>
<text x="498.25" y="591.4" text-anchor="middle" class="l">Jan</text>
<text x="498.25" y="605.6" text-anchor="middle" class="l">2015</text>
<polyline points="311.6,509.2 312.7,514.4 314.9,514.4 316.9,517.7 319.5,521.7 322.2,525.4 325.4,525.6 329.4,526.7 332.0,523.7 335.3,521.0 337.9,517.1 340.6,512.5 343.2,511.8 345.8,509.8 348.5,505.2 351.1,507.9 353.7,507.2 357.0,510.5 359.7,513.1 362.3,509.6 364.9,512.5 366.9,519.1 370.2,525.6 373.5,527.6 375.0,526.3 377.0,534.8 378.9,542.7 380.9,552.0 383.6,555.9 386.2,558.5 389.5,559.8 391.4,563.1 394.1,565.4 396.7,559.8 399.3,554.6 402.0,550.0 405.3,544.1 407.9,539.4 409.9,534.8 413.2,532.5 417.1,531.6 420.4,530.2 423.0,528.5 425.7,527.6 428.9,530.2 432.2,529.6 435.5,528.9 438.8,530.2 441.4,532.5 444.9,532.9 448.2,532.5 452.2,532.9 454.2,534.2 456.8,537.2 459.4,534.8 462.7,535.1 466.0,534.2 469.3,535.5 472.6,535.9 476.5,535.5 479.8,532.5 483.1,530.9 486.4,529.3 489.7,532.0 493.0,530.2 495.6,530.9 497.6,534.2 498.9,536.4 501.5,533.5 504.2,532.9 506.5,531.9" fill="none" stroke="#28479c" stroke-width="3" stroke-linejoin="round"/>
<polyline points="311.5,522.1 316.8,521.3 322.3,522.7 326.4,524.2 329.2,524.2 333.3,524.0 338.2,522.1 343.0,517.1 346.5,512.8 351.3,511.5 356.8,510.8 361.7,512.1 365.1,512.8 367.1,515.2 370.6,520.3 373.2,523.1 376.4,528.9 378.6,533.9 381.3,541.3 382.7,546.3 383.7,552.5 385.5,557.5 388.9,563.5 393.0,564.3 396.4,558.8 398.5,553.8 401.3,546.3 404.0,537.6 406.8,531.4 409.6,526.5 413.0,522.1 417.1,519.5 422.0,517.7 425.4,519.0 429.5,518.0 433.5,517.1 437.5,520.3 443.0,522.1 447.1,524.8 452.7,526.7 456.8,529.5 462.3,531.6 466.5,532.6 472.0,534.5 475.4,532.9 480.3,528.3 484.4,525.8 488.5,522.1 492.7,519.0 499.2,519.5 502.7,518.6 506.5,521.5" fill="none" stroke="#7f7f7f" stroke-width="3" stroke-dasharray="4.5,5.5" stroke-linecap="round" stroke-linejoin="round"/>
<text transform="translate(421.3 503.7) scale(1 1.07)" class="t" xml:space="preserve">South West</text>
<line x1="46.5" y1="625.5" x2="219.75" y2="625.5" stroke="#d9d9d9" stroke-width="1"/>
<line x1="46.5" y1="647.5" x2="219.75" y2="647.5" stroke="#d9d9d9" stroke-width="1"/>
<line x1="46.5" y1="669.5" x2="219.75" y2="669.5" stroke="#d9d9d9" stroke-width="1"/>
<line x1="46.5" y1="692.5" x2="219.75" y2="692.5" stroke="#d9d9d9" stroke-width="1"/>
<line x1="41.5" y1="625.5" x2="46.5" y2="625.5" stroke="#868686" stroke-width="1"/>
<line x1="41.5" y1="647.5" x2="46.5" y2="647.5" stroke="#868686" stroke-width="1"/>
<line x1="41.5" y1="669.5" x2="46.5" y2="669.5" stroke="#868686" stroke-width="1"/>
<line x1="41.5" y1="692.5" x2="46.5" y2="692.5" stroke="#868686" stroke-width="1"/>
<line x1="41.5" y1="714.5" x2="46.5" y2="714.5" stroke="#868686" stroke-width="1"/>
<line x1="46.5" y1="625.5" x2="46.5" y2="714.5" stroke="#868686" stroke-width="1"/>
<line x1="46.5" y1="714.5" x2="219.75" y2="714.5" stroke="#868686" stroke-width="1"/>
<line x1="46.5" y1="714.5" x2="46.5" y2="719.5" stroke="#868686" stroke-width="1"/>
<line x1="64.5" y1="714.5" x2="64.5" y2="719.5" stroke="#868686" stroke-width="1"/>
<line x1="83.5" y1="714.5" x2="83.5" y2="719.5" stroke="#868686" stroke-width="1"/>
<line x1="101.5" y1="714.5" x2="101.5" y2="719.5" stroke="#868686" stroke-width="1"/>
<line x1="120.5" y1="714.5" x2="120.5" y2="719.5" stroke="#868686" stroke-width="1"/>
<line x1="138.5" y1="714.5" x2="138.5" y2="719.5" stroke="#868686" stroke-width="1"/>
<line x1="157.5" y1="714.5" x2="157.5" y2="719.5" stroke="#868686" stroke-width="1"/>
<line x1="175.5" y1="714.5" x2="175.5" y2="719.5" stroke="#868686" stroke-width="1"/>
<line x1="194.5" y1="714.5" x2="194.5" y2="719.5" stroke="#868686" stroke-width="1"/>
<line x1="212.5" y1="714.5" x2="212.5" y2="719.5" stroke="#868686" stroke-width="1"/>
<text x="35.5" y="629.4" text-anchor="end" class="l">6</text>
<text x="35.5" y="651.4" text-anchor="end" class="l">4</text>
<text x="35.5" y="673.4" text-anchor="end" class="l">2</text>
<text x="35.5" y="696.4" text-anchor="end" class="l">0</text>
<text x="35.5" y="718.4" text-anchor="end" class="l">-2</text>
<text x="46.50" y="733.1" text-anchor="middle" class="l">Jan</text>
<text x="46.50" y="747.6" text-anchor="middle" class="l">2006</text>
<text x="72.66" y="733.1" text-anchor="middle" class="l">Jul</text>
<text x="101.82" y="733.1" text-anchor="middle" class="l">Jan</text>
<text x="101.82" y="747.6" text-anchor="middle" class="l">2009</text>
<text x="127.98" y="733.1" text-anchor="middle" class="l">Jul</text>
<text x="157.14" y="733.1" text-anchor="middle" class="l">Jan</text>
<text x="157.14" y="747.6" text-anchor="middle" class="l">2012</text>
<text x="183.30" y="733.1" text-anchor="middle" class="l">Jul</text>
<text x="212.46" y="733.1" text-anchor="middle" class="l">Jan</text>
<text x="212.46" y="747.6" text-anchor="middle" class="l">2015</text>
<polyline points="46.6,673.7 48.6,669.1 51.2,665.8 53.2,663.8 54.8,661.2 57.2,666.4 60.4,666.1 63.7,668.4 67.0,664.5 71.0,661.2 72.9,656.6 75.3,650.0 77.6,648.0 79.3,638.2 82.2,638.8 85.4,640.1 88.1,642.1 90.7,645.4 93.3,642.1 96.0,646.1 99.3,650.0 103.2,656.6 105.2,665.8 107.8,671.1 109.8,682.9 111.8,697.4 114.6,705.3 117.2,709.2 119.9,707.2 122.5,700.0 125.1,692.1 127.8,682.9 129.7,671.1 131.7,665.8 133.7,656.6 136.3,652.0 138.9,646.7 142.2,640.8 145.5,637.5 148.8,637.5 151.4,634.5 155.4,633.6 158.7,634.5 161.3,638.2 164.0,641.4 167.9,645.4 171.8,648.0 174.5,653.3 177.5,656.7 180.4,662.4 183.8,665.9 187.3,668.8 189.6,671.1 193.0,668.2 195.9,660.7 198.8,656.1 201.1,652.1 204.0,649.8 206.3,644.6 209.7,646.3 212.6,648.6 217.2,650.3 219.5,657.8" fill="none" stroke="#28479c" stroke-width="3" stroke-linejoin="round"/>
<polyline points="46.5,664.0 51.2,663.1 56.1,664.5 59.8,666.1 62.2,666.1 65.9,665.9 70.2,664.0 74.5,658.9 77.6,654.4 81.9,653.1 86.7,652.4 91.1,653.8 94.1,654.4 95.9,656.9 99.0,662.1 101.3,665.0 104.2,670.9 106.1,676.0 108.5,683.6 109.7,688.7 110.7,695.0 112.2,700.1 115.3,706.3 118.9,707.2 122.0,701.5 123.8,696.4 126.3,688.7 128.7,679.8 131.2,673.4 133.7,668.4 136.7,664.0 140.4,661.3 144.7,659.4 147.7,660.8 151.4,659.8 154.9,658.9 158.4,662.1 163.3,664.0 167.0,666.8 171.9,668.7 175.6,671.6 180.5,673.7 184.2,674.7 189.1,676.7 192.1,675.0 196.4,670.3 200.1,667.8 203.7,664.0 207.5,660.8 213.3,661.3 216.4,660.4 219.8,663.3" fill="none" stroke="#7f7f7f" stroke-width="3" stroke-dasharray="4.5,5.5" stroke-linecap="round" stroke-linejoin="round"/>
<text transform="translate(153 703) scale(1 1.07)" class="t" xml:space="preserve">London</text>
<line x1="316.5" y1="630.5" x2="497.75" y2="630.5" stroke="#d9d9d9" stroke-width="1"/>
<line x1="316.5" y1="652.5" x2="497.75" y2="652.5" stroke="#d9d9d9" stroke-width="1"/>
<line x1="316.5" y1="675.5" x2="497.75" y2="675.5" stroke="#d9d9d9" stroke-width="1"/>
<line x1="316.5" y1="697.5" x2="497.75" y2="697.5" stroke="#d9d9d9" stroke-width="1"/>
<line x1="311.5" y1="630.5" x2="316.5" y2="630.5" stroke="#868686" stroke-width="1"/>
<line x1="311.5" y1="652.5" x2="316.5" y2="652.5" stroke="#868686" stroke-width="1"/>
<line x1="311.5" y1="675.5" x2="316.5" y2="675.5" stroke="#868686" stroke-width="1"/>
<line x1="311.5" y1="697.5" x2="316.5" y2="697.5" stroke="#868686" stroke-width="1"/>
<line x1="311.5" y1="720.5" x2="316.5" y2="720.5" stroke="#868686" stroke-width="1"/>
<line x1="316.5" y1="630.5" x2="316.5" y2="720.5" stroke="#868686" stroke-width="1"/>
<line x1="316.5" y1="720.5" x2="497.75" y2="720.5" stroke="#868686" stroke-width="1"/>
<line x1="316.5" y1="720.5" x2="316.5" y2="725.5" stroke="#868686" stroke-width="1"/>
<line x1="335.5" y1="720.5" x2="335.5" y2="725.5" stroke="#868686" stroke-width="1"/>
<line x1="355.5" y1="720.5" x2="355.5" y2="725.5" stroke="#868686" stroke-width="1"/>
<line x1="374.5" y1="720.5" x2="374.5" y2="725.5" stroke="#868686" stroke-width="1"/>
<line x1="393.5" y1="720.5" x2="393.5" y2="725.5" stroke="#868686" stroke-width="1"/>
<line x1="412.5" y1="720.5" x2="412.5" y2="725.5" stroke="#868686" stroke-width="1"/>
<line x1="432.5" y1="720.5" x2="432.5" y2="725.5" stroke="#868686" stroke-width="1"/>
<line x1="451.5" y1="720.5" x2="451.5" y2="725.5" stroke="#868686" stroke-width="1"/>
<line x1="470.5" y1="720.5" x2="470.5" y2="725.5" stroke="#868686" stroke-width="1"/>
<line x1="489.5" y1="720.5" x2="489.5" y2="725.5" stroke="#868686" stroke-width="1"/>
<text x="306" y="634.4" text-anchor="end" class="l">6</text>
<text x="306" y="656.4" text-anchor="end" class="l">4</text>
<text x="306" y="679.4" text-anchor="end" class="l">2</text>
<text x="306" y="701.4" text-anchor="end" class="l">0</text>
<text x="306" y="724.4" text-anchor="end" class="l">-2</text>
<text x="316.75" y="738.9" text-anchor="middle" class="l">Jan</text>
<text x="316.75" y="753.9" text-anchor="middle" class="l">2006</text>
<text x="344.08" y="738.9" text-anchor="middle" class="l">Jul</text>
<text x="374.41" y="738.9" text-anchor="middle" class="l">Jan</text>
<text x="374.41" y="753.9" text-anchor="middle" class="l">2009</text>
<text x="401.74" y="738.9" text-anchor="middle" class="l">Jul</text>
<text x="432.07" y="738.9" text-anchor="middle" class="l">Jan</text>
<text x="432.07" y="753.9" text-anchor="middle" class="l">2012</text>
<text x="459.40" y="738.9" text-anchor="middle" class="l">Jul</text>
<text x="489.73" y="738.9" text-anchor="middle" class="l">Jan</text>
<text x="489.73" y="753.9" text-anchor="middle" class="l">2015</text>
<polyline points="316.5,669.4 321.5,668.5 326.6,670.0 330.4,671.6 333.0,671.6 336.8,671.3 341.3,669.4 345.8,664.2 349.0,659.8 353.5,658.4 358.6,657.7 363.1,659.1 366.3,659.8 368.2,662.2 371.4,667.5 373.8,670.4 376.8,676.4 378.8,681.6 381.3,689.2 382.6,694.4 383.6,700.8 385.2,706.0 388.4,712.2 392.3,713.1 395.5,707.3 397.4,702.2 400.0,694.4 402.5,685.4 405.1,679.0 407.7,673.9 410.9,669.4 414.7,666.7 419.2,664.8 422.4,666.2 426.2,665.1 429.9,664.2 433.6,667.5 438.7,669.4 442.5,672.2 447.7,674.1 451.5,677.1 456.6,679.2 460.5,680.2 465.7,682.2 468.9,680.6 473.4,675.8 477.2,673.2 481.0,669.4 484.9,666.2 491.0,666.7 494.2,665.8 497.8,668.8" fill="none" stroke="#7f7f7f" stroke-width="3" stroke-dasharray="4.5,5.5" stroke-linecap="round" stroke-linejoin="round"/>
<text transform="translate(428.25 709.25) scale(1 1.07)" class="t" xml:space="preserve">England</text>
</svg>
</body></html>
